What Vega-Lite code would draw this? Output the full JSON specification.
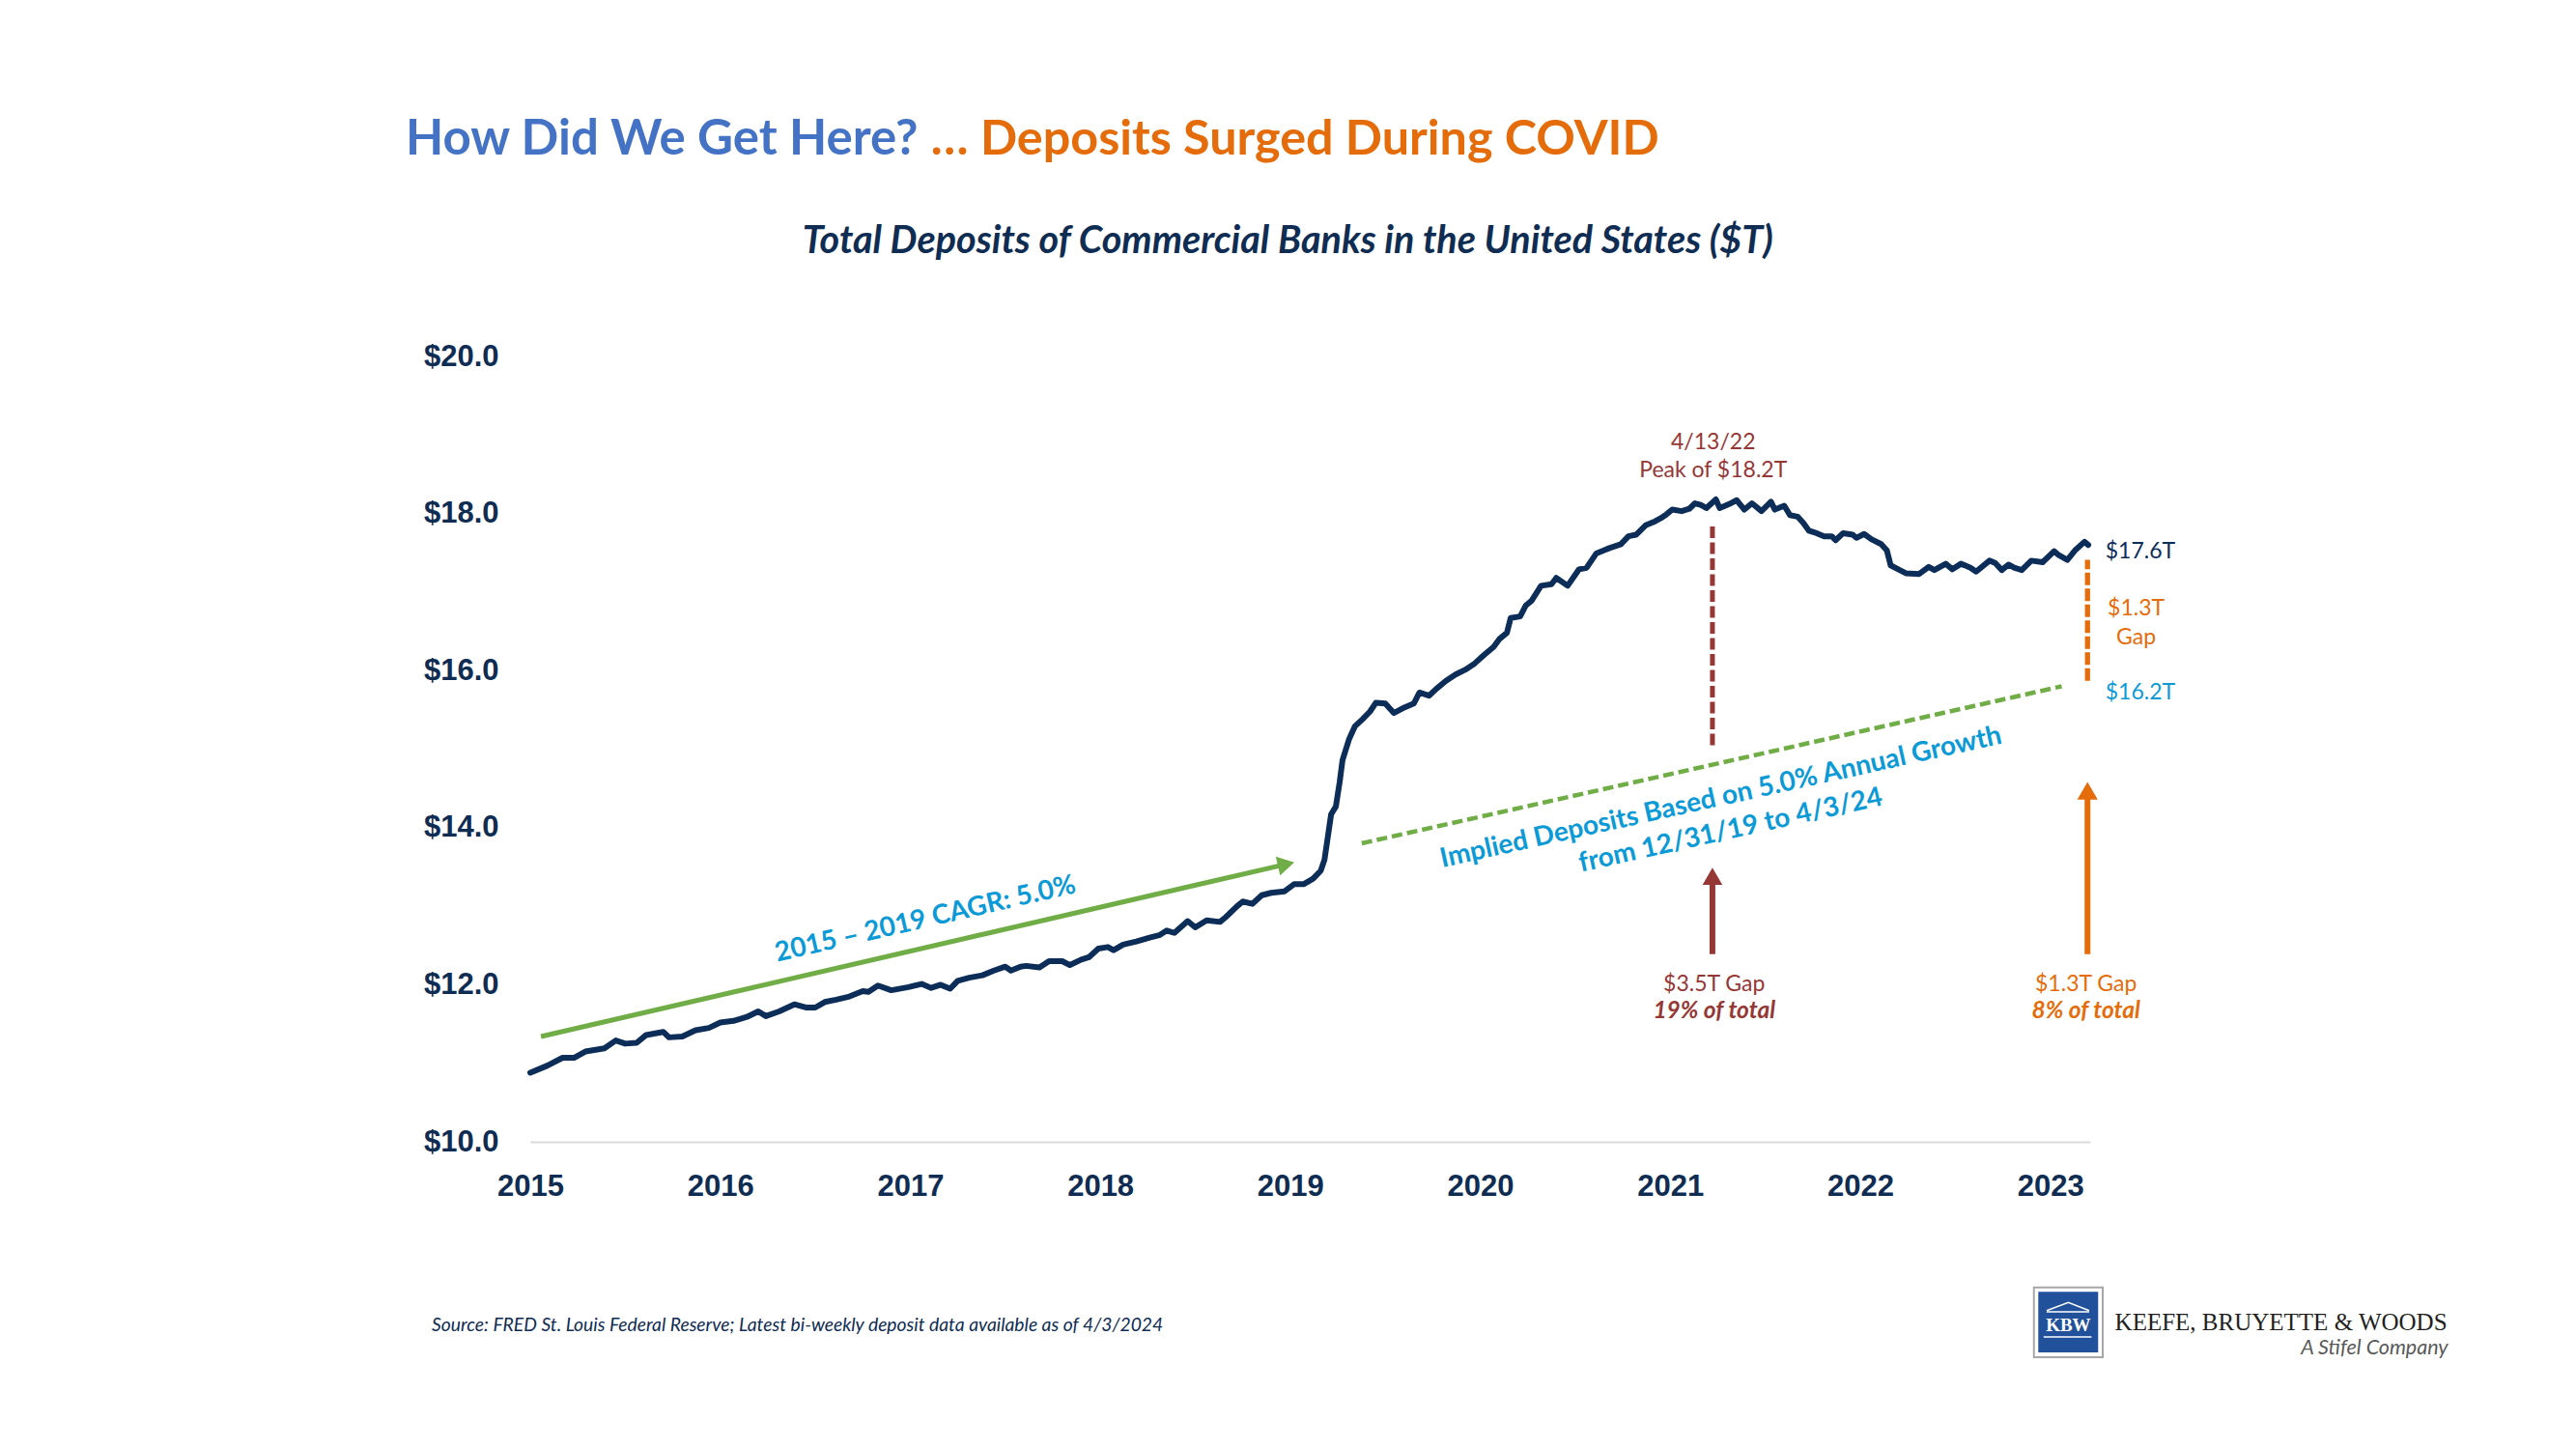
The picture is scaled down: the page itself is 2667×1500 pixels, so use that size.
{
  "$schema": "https://vega.github.io/schema/vega-lite/v6.json",
  "width": 1615,
  "height": 813,
  "autosize": "none",
  "padding": {"left": 549, "top": 369, "right": 503, "bottom": 318},
  "background": "white",
  "config": {"view": {"stroke": null}},
  "datasets": {
    "deposits": [
      {"t": 2015.00, "v": 10.88}, {"t": 2015.09, "v": 10.97}, {"t": 2015.17, "v": 11.07}, {"t": 2015.23, "v": 11.07},
      {"t": 2015.29, "v": 11.15}, {"t": 2015.39, "v": 11.19}, {"t": 2015.45, "v": 11.29}, {"t": 2015.50, "v": 11.25},
      {"t": 2015.56, "v": 11.26}, {"t": 2015.61, "v": 11.36}, {"t": 2015.70, "v": 11.40}, {"t": 2015.73, "v": 11.33},
      {"t": 2015.80, "v": 11.34}, {"t": 2015.87, "v": 11.42}, {"t": 2015.94, "v": 11.45}, {"t": 2016.00, "v": 11.52},
      {"t": 2016.07, "v": 11.54}, {"t": 2016.14, "v": 11.59}, {"t": 2016.20, "v": 11.66}, {"t": 2016.24, "v": 11.60},
      {"t": 2016.31, "v": 11.66}, {"t": 2016.39, "v": 11.75}, {"t": 2016.45, "v": 11.71}, {"t": 2016.50, "v": 11.71},
      {"t": 2016.55, "v": 11.78}, {"t": 2016.61, "v": 11.81}, {"t": 2016.68, "v": 11.85}, {"t": 2016.75, "v": 11.92},
      {"t": 2016.78, "v": 11.91}, {"t": 2016.83, "v": 11.99}, {"t": 2016.90, "v": 11.93}, {"t": 2016.99, "v": 11.97},
      {"t": 2017.06, "v": 12.01}, {"t": 2017.11, "v": 11.96}, {"t": 2017.16, "v": 12.00}, {"t": 2017.21, "v": 11.95},
      {"t": 2017.25, "v": 12.05}, {"t": 2017.31, "v": 12.09}, {"t": 2017.38, "v": 12.12}, {"t": 2017.44, "v": 12.18},
      {"t": 2017.50, "v": 12.23}, {"t": 2017.53, "v": 12.18}, {"t": 2017.58, "v": 12.23}, {"t": 2017.61, "v": 12.24},
      {"t": 2017.68, "v": 12.22}, {"t": 2017.73, "v": 12.30}, {"t": 2017.80, "v": 12.30}, {"t": 2017.84, "v": 12.25},
      {"t": 2017.90, "v": 12.32}, {"t": 2017.94, "v": 12.35}, {"t": 2017.99, "v": 12.46}, {"t": 2018.04, "v": 12.48},
      {"t": 2018.07, "v": 12.44}, {"t": 2018.12, "v": 12.51}, {"t": 2018.19, "v": 12.55}, {"t": 2018.26, "v": 12.60},
      {"t": 2018.31, "v": 12.63}, {"t": 2018.35, "v": 12.69}, {"t": 2018.39, "v": 12.66}, {"t": 2018.46, "v": 12.81},
      {"t": 2018.50, "v": 12.73}, {"t": 2018.56, "v": 12.82}, {"t": 2018.63, "v": 12.80}, {"t": 2018.66, "v": 12.86},
      {"t": 2018.72, "v": 13.00}, {"t": 2018.75, "v": 13.06}, {"t": 2018.80, "v": 13.03}, {"t": 2018.85, "v": 13.14},
      {"t": 2018.90, "v": 13.17}, {"t": 2018.97, "v": 13.19}, {"t": 2019.02, "v": 13.28}, {"t": 2019.07, "v": 13.28},
      {"t": 2019.12, "v": 13.35}, {"t": 2019.16, "v": 13.45}, {"t": 2019.18, "v": 13.59}, {"t": 2019.20, "v": 13.92},
      {"t": 2019.215, "v": 14.17}, {"t": 2019.24, "v": 14.27}, {"t": 2019.26, "v": 14.58}, {"t": 2019.275, "v": 14.86},
      {"t": 2019.31, "v": 15.13}, {"t": 2019.34, "v": 15.29}, {"t": 2019.38, "v": 15.38}, {"t": 2019.42, "v": 15.48},
      {"t": 2019.45, "v": 15.59}, {"t": 2019.50, "v": 15.58}, {"t": 2019.545, "v": 15.46}, {"t": 2019.60, "v": 15.53},
      {"t": 2019.65, "v": 15.58}, {"t": 2019.68, "v": 15.72}, {"t": 2019.73, "v": 15.68}, {"t": 2019.77, "v": 15.77},
      {"t": 2019.82, "v": 15.87}, {"t": 2019.87, "v": 15.95}, {"t": 2019.92, "v": 16.01}, {"t": 2019.97, "v": 16.09},
      {"t": 2020.02, "v": 16.20}, {"t": 2020.07, "v": 16.30}, {"t": 2020.10, "v": 16.40}, {"t": 2020.14, "v": 16.48},
      {"t": 2020.16, "v": 16.67}, {"t": 2020.21, "v": 16.69}, {"t": 2020.24, "v": 16.83}, {"t": 2020.27, "v": 16.89},
      {"t": 2020.32, "v": 17.08}, {"t": 2020.375, "v": 17.10}, {"t": 2020.40, "v": 17.18}, {"t": 2020.46, "v": 17.08},
      {"t": 2020.52, "v": 17.29}, {"t": 2020.56, "v": 17.31}, {"t": 2020.61, "v": 17.49}, {"t": 2020.65, "v": 17.53},
      {"t": 2020.68, "v": 17.56}, {"t": 2020.74, "v": 17.61}, {"t": 2020.78, "v": 17.71}, {"t": 2020.82, "v": 17.73},
      {"t": 2020.87, "v": 17.85}, {"t": 2020.92, "v": 17.90}, {"t": 2020.95, "v": 17.94}, {"t": 2020.98, "v": 17.99},
      {"t": 2021.01, "v": 18.05}, {"t": 2021.06, "v": 18.03}, {"t": 2021.10, "v": 18.06}, {"t": 2021.13, "v": 18.13},
      {"t": 2021.16, "v": 18.11}, {"t": 2021.19, "v": 18.07}, {"t": 2021.24, "v": 18.18}, {"t": 2021.26, "v": 18.07},
      {"t": 2021.31, "v": 18.12}, {"t": 2021.35, "v": 18.17}, {"t": 2021.39, "v": 18.05}, {"t": 2021.43, "v": 18.13},
      {"t": 2021.48, "v": 18.03}, {"t": 2021.53, "v": 18.15}, {"t": 2021.55, "v": 18.05}, {"t": 2021.60, "v": 18.10},
      {"t": 2021.63, "v": 17.98}, {"t": 2021.67, "v": 17.96}, {"t": 2021.70, "v": 17.88}, {"t": 2021.73, "v": 17.78},
      {"t": 2021.77, "v": 17.75}, {"t": 2021.81, "v": 17.71}, {"t": 2021.85, "v": 17.71}, {"t": 2021.87, "v": 17.66},
      {"t": 2021.91, "v": 17.75}, {"t": 2021.96, "v": 17.73}, {"t": 2021.98, "v": 17.69}, {"t": 2022.02, "v": 17.74},
      {"t": 2022.06, "v": 17.67}, {"t": 2022.11, "v": 17.61}, {"t": 2022.14, "v": 17.53}, {"t": 2022.16, "v": 17.34},
      {"t": 2022.20, "v": 17.29}, {"t": 2022.24, "v": 17.24}, {"t": 2022.31, "v": 17.23}, {"t": 2022.36, "v": 17.32},
      {"t": 2022.39, "v": 17.28}, {"t": 2022.45, "v": 17.36}, {"t": 2022.485, "v": 17.29}, {"t": 2022.53, "v": 17.36},
      {"t": 2022.58, "v": 17.31}, {"t": 2022.61, "v": 17.26}, {"t": 2022.68, "v": 17.40}, {"t": 2022.71, "v": 17.37},
      {"t": 2022.745, "v": 17.28}, {"t": 2022.78, "v": 17.35}, {"t": 2022.81, "v": 17.31}, {"t": 2022.85, "v": 17.28},
      {"t": 2022.90, "v": 17.40}, {"t": 2022.96, "v": 17.38}, {"t": 2023.02, "v": 17.52}, {"t": 2023.045, "v": 17.47},
      {"t": 2023.09, "v": 17.41}, {"t": 2023.13, "v": 17.53}, {"t": 2023.18, "v": 17.64}, {"t": 2023.20, "v": 17.60}
    ],
    "cagr": [{"t": 2015.056, "v": 11.34}, {"t": 2018.978, "v": 13.535}],
    "cagr_head": [{"t": 2018.978, "v": 13.535}],
    "implied": [{"t": 2019.376, "v": 13.80}, {"t": 2023.06, "v": 15.80}],
    "peak_rule": [{"t": 2021.222, "v": 15.05, "v2": 17.85}],
    "gap_rule": [{"t": 2023.196, "v": 15.87, "v2": 17.41}],
    "arrow_maroon": [{"t": 2021.222, "v": 12.39, "v2": 13.38}],
    "arrow_orange": [{"t": 2023.196, "v": 12.39, "v2": 14.47}],
    "head_maroon": [{"t": 2021.222, "v": 13.38}],
    "head_orange": [{"t": 2023.196, "v": 14.47}],
    "logo_frame": [{"t": 2022.914, "t2": 2023.276, "v": 8.146, "v2": 7.257}],
    "logo_box": [{"t": 2022.937, "t2": 2023.252, "v": 8.090, "v2": 7.319}],
    "logo_roof": [{"t": 2022.981, "v": 7.851}, {"t": 2023.095, "v": 7.955}, {"t": 2023.205, "v": 7.851}],
    "logo_bars": [{"t": 2022.981, "t2": 2023.205, "v": 7.835}, {"t": 2022.965, "t2": 2023.217, "v": 7.515}],
    "annot": [
      {"t": 2014.344, "v": 22.571, "text": "How Did We Get Here?", "kind": "title_blue"},
      {"t": 2017.109, "v": 22.571, "text": "… Deposits Surged During COVID", "kind": "title_orange"},
      {"t": 2018.987, "v": 21.316, "text": "Total Deposits of Commercial Banks in the United States ($T)", "kind": "subtitle"},
      {"t": 2014.482, "v": 7.589, "text": "Source: FRED St. Louis Federal Reserve; Latest bi-weekly deposit data available as of 4/3/2024", "kind": "source"},
      {"t": 2021.226, "v": 18.905, "text": "4/13/22", "kind": "maroon"},
      {"t": 2021.226, "v": 18.55, "text": "Peak of $18.2T", "kind": "maroon"},
      {"t": 2021.231, "v": 12.01, "text": "$3.5T Gap", "kind": "maroon"},
      {"t": 2021.231, "v": 11.66, "text": "19% of total", "kind": "maroon_it"},
      {"t": 2023.452, "v": 16.79, "text": "$1.3T", "kind": "orange"},
      {"t": 2023.452, "v": 16.42, "text": "Gap", "kind": "orange"},
      {"t": 2023.188, "v": 12.01, "text": "$1.3T Gap", "kind": "orange"},
      {"t": 2023.188, "v": 11.66, "text": "8% of total", "kind": "orange_it"},
      {"t": 2023.290, "v": 17.51, "text": "$17.6T", "kind": "navy_left"},
      {"t": 2023.290, "v": 15.72, "text": "$16.2T", "kind": "blue_left"},
      {"t": 2017.08, "v": 12.83, "text": "2015 – 2019 CAGR: 5.0%", "kind": "rot_cagr"},
      {"t": 2021.267, "v": 14.38, "text": "Implied Deposits Based on 5.0% Annual Growth", "kind": "rot_implied"},
      {"t": 2021.318, "v": 13.96, "text": "from 12/31/19 to 4/3/24", "kind": "rot_implied"},
      {"t": 2023.340, "v": 7.601, "text": "KEEFE, BRUYETTE & WOODS", "kind": "logo_name"},
      {"t": 2025.094, "v": 7.294, "text": "A Stifel Company", "kind": "logo_sub"},
      {"t": 2023.095, "v": 7.667, "text": "KBW", "kind": "logo_kbw"}
    ]
  },
  "encoding": {
    "x": {
      "field": "t", "type": "quantitative",
      "scale": {"domain": [2015, 2023.21], "nice": false, "zero": false},
      "axis": {
        "values": [2015, 2016, 2017, 2018, 2019, 2020, 2021, 2022, 2023],
        "format": "d", "title": null, "grid": false, "ticks": false,
        "domain": true, "domainColor": "#D9D9D9", "domainWidth": 2,
        "labelFont": "Liberation Sans", "labelFontWeight": "bold", "labelFontSize": 31,
        "labelColor": "#0F2C52", "labelPadding": 31, "labelFlush": false, "labelOverlap": false
      }
    },
    "y": {
      "field": "v", "type": "quantitative",
      "scale": {"domain": [10, 20], "nice": false, "zero": false},
      "axis": {
        "values": [10, 12, 14, 16, 18, 20],
        "format": "$.1f",
        "title": null, "grid": false, "ticks": false, "domain": false,
        "labelFont": "Liberation Sans", "labelFontWeight": "bold", "labelFontSize": 31,
        "labelColor": "#0F2C52", "labelPadding": 33, "labelOverlap": false
      }
    }
  },
  "layer": [
    {"data": {"name": "cagr"}, "mark": {"type": "line", "color": "#70AD47", "strokeWidth": 5, "strokeCap": "butt"}},
    {"data": {"name": "cagr_head"}, "mark": {"type": "point", "shape": "triangle-right", "filled": true, "size": 400, "angle": 347, "color": "#70AD47", "opacity": 1, "strokeWidth": 0}},
    {"data": {"name": "implied"}, "mark": {"type": "line", "color": "#70AD47", "strokeWidth": 4.5, "strokeDash": [11, 5], "strokeCap": "butt"}},
    {"data": {"name": "peak_rule"}, "mark": {"type": "rule", "color": "#953735", "strokeWidth": 5, "strokeDash": [12, 4.5]}, "encoding": {"y2": {"field": "v2"}}},
    {"data": {"name": "gap_rule"}, "mark": {"type": "rule", "color": "#E46C0A", "strokeWidth": 5.3, "strokeDash": [13, 3.5]}, "encoding": {"y2": {"field": "v2"}}},
    {"data": {"name": "arrow_maroon"}, "mark": {"type": "rule", "color": "#953735", "strokeWidth": 6}, "encoding": {"y2": {"field": "v2"}}},
    {"data": {"name": "arrow_orange"}, "mark": {"type": "rule", "color": "#E46C0A", "strokeWidth": 6}, "encoding": {"y2": {"field": "v2"}}},
    {"data": {"name": "head_maroon"}, "mark": {"type": "point", "shape": "triangle-up", "filled": true, "size": 420, "color": "#953735", "opacity": 1, "strokeWidth": 0}},
    {"data": {"name": "head_orange"}, "mark": {"type": "point", "shape": "triangle-up", "filled": true, "size": 450, "color": "#E46C0A", "opacity": 1, "strokeWidth": 0}},
    {"data": {"name": "deposits"}, "mark": {"type": "line", "color": "#0C2D57", "strokeWidth": 6, "strokeJoin": "round", "strokeCap": "round"}},
    {"data": {"name": "logo_frame"}, "mark": {"type": "rect", "fill": "white", "stroke": "#A6A6A6", "strokeWidth": 2}, "encoding": {"x2": {"field": "t2"}, "y2": {"field": "v2"}}},
    {"data": {"name": "logo_box"}, "mark": {"type": "rect", "fill": "#21519B"}, "encoding": {"x2": {"field": "t2"}, "y2": {"field": "v2"}}},
    {"data": {"name": "logo_roof"}, "mark": {"type": "line", "color": "white", "strokeWidth": 1.5}},
    {"data": {"name": "logo_bars"}, "mark": {"type": "rule", "color": "white", "strokeWidth": 1.5}, "encoding": {"x2": {"field": "t2"}}},
    {"data": {"name": "annot"}, "transform": [{"filter": "datum.kind === 'title_blue'"}],
     "mark": {"type": "text", "align": "left", "baseline": "alphabetic", "font": "Lato", "fontWeight": "bold", "fontSize": 51, "color": "#4472C4"},
     "encoding": {"text": {"field": "text"}}},
    {"data": {"name": "annot"}, "transform": [{"filter": "datum.kind === 'title_orange'"}],
     "mark": {"type": "text", "align": "left", "baseline": "alphabetic", "font": "Lato", "fontWeight": "bold", "fontSize": 50.3, "color": "#E46C0A"},
     "encoding": {"text": {"field": "text"}}},
    {"data": {"name": "annot"}, "transform": [{"filter": "datum.kind === 'subtitle'"}],
     "mark": {"type": "text", "align": "center", "baseline": "alphabetic", "font": "Lato", "fontWeight": "bold", "fontStyle": "italic", "fontSize": 39.5, "color": "#0F2C52"},
     "encoding": {"text": {"field": "text"}}},
    {"data": {"name": "annot"}, "transform": [{"filter": "datum.kind === 'source'"}],
     "mark": {"type": "text", "align": "left", "baseline": "alphabetic", "font": "Lato", "fontStyle": "italic", "fontSize": 19.3, "color": "#0F2C52"},
     "encoding": {"text": {"field": "text"}}},
    {"data": {"name": "annot"}, "transform": [{"filter": "datum.kind === 'maroon'"}],
     "mark": {"type": "text", "align": "center", "baseline": "middle", "font": "Lato", "fontSize": 23, "color": "#953735"},
     "encoding": {"text": {"field": "text"}}},
    {"data": {"name": "annot"}, "transform": [{"filter": "datum.kind === 'maroon_it'"}],
     "mark": {"type": "text", "align": "center", "baseline": "middle", "font": "Lato", "fontStyle": "italic", "fontWeight": "bold", "fontSize": 24.5, "color": "#953735"},
     "encoding": {"text": {"field": "text"}}},
    {"data": {"name": "annot"}, "transform": [{"filter": "datum.kind === 'orange'"}],
     "mark": {"type": "text", "align": "center", "baseline": "middle", "font": "Lato", "fontSize": 23, "color": "#E46C0A"},
     "encoding": {"text": {"field": "text"}}},
    {"data": {"name": "annot"}, "transform": [{"filter": "datum.kind === 'orange_it'"}],
     "mark": {"type": "text", "align": "center", "baseline": "middle", "font": "Lato", "fontStyle": "italic", "fontWeight": "bold", "fontSize": 24.5, "color": "#E46C0A"},
     "encoding": {"text": {"field": "text"}}},
    {"data": {"name": "annot"}, "transform": [{"filter": "datum.kind === 'navy_left'"}],
     "mark": {"type": "text", "align": "left", "baseline": "middle", "font": "Lato", "fontSize": 23, "color": "#0C2D57"},
     "encoding": {"text": {"field": "text"}}},
    {"data": {"name": "annot"}, "transform": [{"filter": "datum.kind === 'blue_left'"}],
     "mark": {"type": "text", "align": "left", "baseline": "middle", "font": "Lato", "fontSize": 23, "color": "#0B9AD6"},
     "encoding": {"text": {"field": "text"}}},
    {"data": {"name": "annot"}, "transform": [{"filter": "datum.kind === 'rot_cagr'"}],
     "mark": {"type": "text", "align": "center", "baseline": "middle", "font": "Lato", "fontWeight": "bold", "fontSize": 28, "angle": 347, "color": "#0B9AD6"},
     "encoding": {"text": {"field": "text"}}},
    {"data": {"name": "annot"}, "transform": [{"filter": "datum.kind === 'rot_implied'"}],
     "mark": {"type": "text", "align": "center", "baseline": "middle", "font": "Lato", "fontWeight": "bold", "fontSize": 28, "angle": 347.5, "color": "#0B9AD6"},
     "encoding": {"text": {"field": "text"}}},
    {"data": {"name": "annot"}, "transform": [{"filter": "datum.kind === 'logo_name'"}],
     "mark": {"type": "text", "align": "left", "baseline": "alphabetic", "font": "Liberation Serif", "fontSize": 25, "color": "#231F20"},
     "encoding": {"text": {"field": "text"}}},
    {"data": {"name": "annot"}, "transform": [{"filter": "datum.kind === 'logo_sub'"}],
     "mark": {"type": "text", "align": "right", "baseline": "alphabetic", "font": "Lato", "fontStyle": "italic", "fontSize": 21.5, "color": "#595959"},
     "encoding": {"text": {"field": "text"}}},
    {"data": {"name": "annot"}, "transform": [{"filter": "datum.kind === 'logo_kbw'"}],
     "mark": {"type": "text", "align": "center", "baseline": "middle", "font": "Liberation Serif", "fontWeight": "bold", "fontSize": 19, "color": "white"},
     "encoding": {"text": {"field": "text"}}}
  ]
}
